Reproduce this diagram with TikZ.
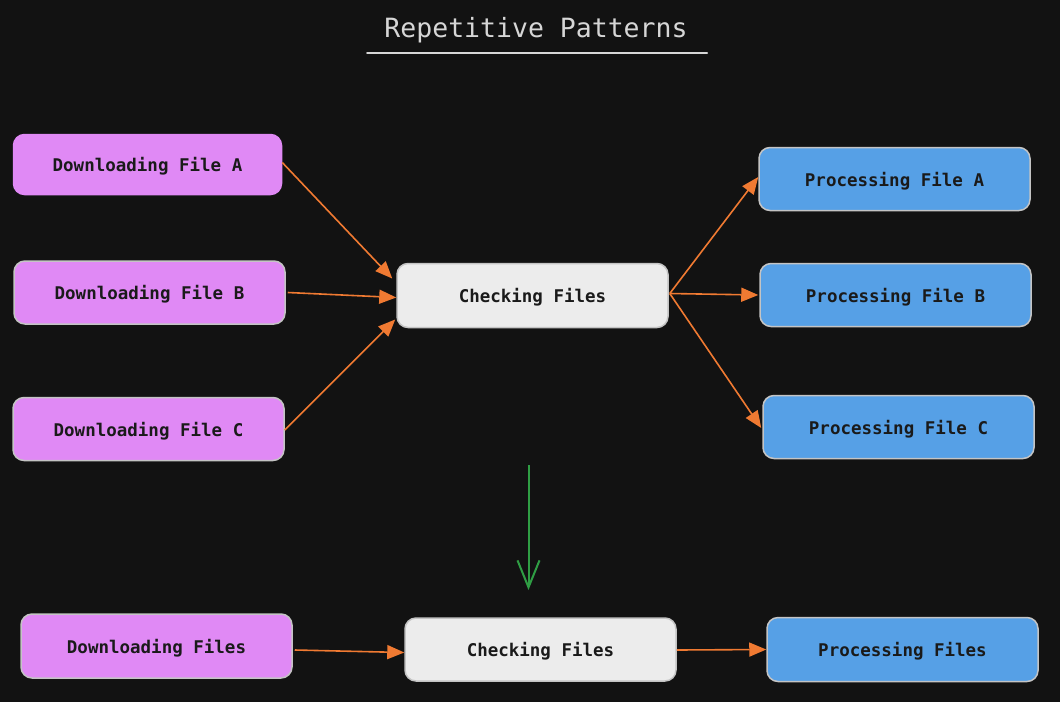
\documentclass[tikz,border=0pt]{standalone}
\usepackage{fontspec}
\usetikzlibrary{arrows.meta}
\newfontfamily\monofont{DejaVu Sans Mono}
\definecolor{bgc}{HTML}{121212}
\definecolor{pinkc}{HTML}{E089F5}
\definecolor{bluec}{HTML}{56A0E6}
\definecolor{grayc}{HTML}{ECECEC}
\definecolor{edgec}{HTML}{C4C4C4}
\definecolor{orangec}{HTML}{F07A32}
\definecolor{greenc}{HTML}{2F9E44}
\definecolor{titlec}{HTML}{D6D6D6}
\definecolor{textc}{HTML}{1A1A1A}
\tikzset{
  box/.style={draw=edgec, line width=1.5pt, rounded corners=11pt, minimum width=271pt, minimum height=63pt,
    inner sep=0pt, text depth=0pt, text=textc, font=\monofont\bfseries\fontsize{17.5}{20}\selectfont},
  dlbox/.style={box, fill=pinkc},
  ckbox/.style={box, fill=grayc},
  prbox/.style={box, fill=bluec},
  flow/.style={draw=orangec, line width=1.6pt, -{Triangle[length=17pt,width=14pt]}},
  merge/.style={draw=greenc, line width=2pt, -{Straight Barb[length=27pt,width=22pt,line width=2pt]}},
}
\begin{document}
\begin{tikzpicture}[x=1pt,y=-1pt]
\fill[bgc] (0,0) rectangle (1060,702);
\useasboundingbox (0,0) rectangle (1060,702);

\node[text=titlec, text depth=0pt, font=\monofont\fontsize{26.5}{30}\selectfont] (title) at (536,27) {Repetitive Patterns};
\coordinate (ulA) at (367,52.5);
\coordinate (ulB) at (707,52.5);
\draw[titlec, line width=2pt, line cap=round] (ulA) -- (ulB);

\node[dlbox, draw=pinkc, minimum width=268pt, minimum height=60pt] (DA) at (147.5,164.5) {Downloading File A};
\node[dlbox] (DB) at (149.5,292.5) {Downloading File B};
\node[dlbox] (DC) at (148.5,429) {Downloading File C};
\node[ckbox, minimum height=64pt] (CK) at (532.5,295.5) {Checking Files};
\node[prbox] (PA) at (894.5,179) {Processing File A};
\node[prbox] (PB) at (895.5,295) {Processing File B};
\node[prbox] (PC) at (898.5,427) {Processing File C};

\node[dlbox, minimum height=64pt] (DF) at (156.5,646) {Downloading Files};
\node[ckbox] (CF) at (540.5,649.5) {Checking Files};
\node[prbox, minimum height=64pt] (PF) at (902.5,649.5) {Processing Files};

\draw[flow] ([yshift=2pt]DA.east) -- ([xshift=-4pt,yshift=17pt]CK.west);
\draw[flow] ([xshift=2pt]DB.east) -- ([yshift=-2pt]CK.west);
\draw[flow] ([yshift=-1pt]DC.east) -- ([xshift=-1pt,yshift=-24pt]CK.west);

\draw[flow] ([xshift=1pt,yshift=2pt]CK.east) -- ([yshift=2pt]PA.west);
\draw[flow] ([xshift=1pt,yshift=2pt]CK.east) -- ([xshift=-1pt]PB.west);
\draw[flow] ([xshift=1pt,yshift=2pt]CK.east) -- ([xshift=-1pt,yshift=-1pt]PC.west);

\coordinate (gA) at (528.5,465);
\coordinate (gB) at (528.5,590);
\draw[merge] (gA) -- (gB);

\draw[flow] ([xshift=2pt,yshift=-4pt]DF.east) -- ([yshift=-3pt]CF.west);
\draw[flow] ([yshift=-0.5pt]CF.east) -- (PF.west);
\end{tikzpicture}
\end{document}
